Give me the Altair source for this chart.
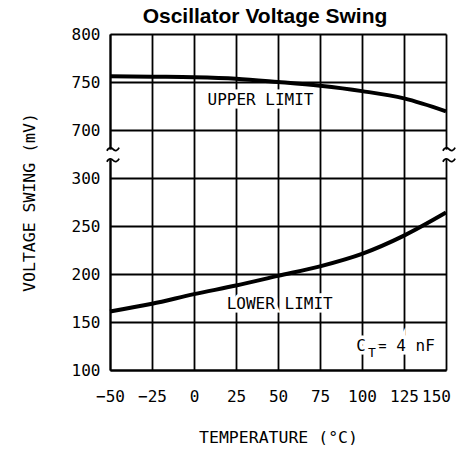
import altair as alt
import pandas as pd

# ---- data ----
temps = [-50, -25, 0, 25, 50, 75, 100, 125, 150]
upper_mv = [756, 755.5, 755, 753.5, 750, 746, 740.5, 733, 719.5]
lower_mv = [161, 169, 179, 188, 198, 208, 221, 240, 264]
y_tick_labels = ["100", "150", "200", "250", "300", "700", "750", "800"]
x_ticks = [-50, -25, 0, 25, 50, 75, 100, 125, 150]


# broken y axis: 100..300 and 700..800 on one uniform index scale
def to_pos(v):
    return (v - 100) / 50 if v <= 300 else 5 + (v - 700) / 50


curves = pd.DataFrame({
    "t": temps * 2,
    "mv": upper_mv + lower_mv,
    "series": ["upper"] * len(temps) + ["lower"] * len(temps),
})
curves["pos"] = curves["mv"].map(to_pos)

ann = pd.DataFrame({
    "text": ["UPPER LIMIT", "LOWER LIMIT"],
    "t": [39.6, 51.0],
    "mv": [731, 169],
})
ann["pos"] = ann["mv"].map(to_pos)

ct_main = pd.DataFrame({"text": ["C", "= 4 nF"], "t": [100, 100], "mv": [125, 125],
                        "dx": [-1, 15], "align": ["center", "left"]})
ct_main["pos"] = ct_main["mv"].map(to_pos)
ct_sub = pd.DataFrame({"text": ["T"], "t": [100], "mv": [125]})
ct_sub["pos"] = ct_sub["mv"].map(to_pos)

brk = pd.DataFrame({"t": [-50, 150], "y1": [4.39, 4.39], "y2": [4.59, 4.59]})
squig = pd.DataFrame({"t": [-50, -50, 150, 150], "pos": [4.6, 4.37, 4.6, 4.37]})

MONO = "DejaVu Sans Mono"
label_expr = "[" + ",".join("'%s'" % s for s in y_tick_labels) + "][datum.value]"

xs = alt.Scale(domain=[-50, 150], nice=False, zero=False)
ys = alt.Scale(domain=[0, 7], nice=False, zero=False)

x_enc = alt.X("t:Q", scale=xs, axis=alt.Axis(
    values=x_ticks, title="TEMPERATURE (°C)", ticks=False,
    labelExpr="replace(datum.label, '-', '−')",
    labelOffset={"condition": {"test": "datum.value == 150", "value": -10}, "value": 0},
    labelFont=MONO, labelFontSize=16, labelColor="black", labelPadding=18,
    labelFlush=False, labelOverlap=False,
    titleFont=MONO, titleFontSize=16.5, titleFontWeight="normal", titleColor="black",
    titlePadding=25,
    domainColor="black", domainWidth=2, gridColor="black", gridWidth=1.8, gridOpacity=1,
))
y_enc = alt.Y("pos:Q", scale=ys, axis=alt.Axis(
    values=list(range(8)), title="VOLTAGE SWING (mV)", ticks=False,
    labelExpr=label_expr,
    labelFont=MONO, labelFontSize=16, labelColor="black", labelPadding=10,
    labelFlush=False, labelOverlap=False,
    titleFont=MONO, titleFontSize=16.5, titleFontWeight="normal", titleColor="black",
    titlePadding=34,
    domainColor="black", domainWidth=2, gridColor="black", gridWidth=1.8, gridOpacity=1,
))

lines = alt.Chart(curves).mark_line(color="black", strokeWidth=4, interpolate="monotone").encode(
    x=x_enc, y=y_enc, detail="series:N")

halo_kw = dict(stroke="white", strokeWidth=7, color="white", font=MONO, fontSize=16)
ann_halo = alt.Chart(ann).mark_text(**halo_kw).encode(
    x=alt.X("t:Q", scale=xs), y=alt.Y("pos:Q", scale=ys), text="text:N")
ann_text = alt.Chart(ann).mark_text(color="black", font=MONO, fontSize=16).encode(
    x=alt.X("t:Q", scale=xs), y=alt.Y("pos:Q", scale=ys), text="text:N")

ct_layers = []
for _, r in ct_main.iterrows():
    d = ct_main[ct_main["text"] == r["text"]]
    for kw in (halo_kw, dict(color="black", font=MONO, fontSize=16)):
        ct_layers.append(alt.Chart(d).mark_text(dx=int(r["dx"]), align=r["align"], **kw).encode(
            x=alt.X("t:Q", scale=xs), y=alt.Y("pos:Q", scale=ys), text="text:N"))
for kw in (dict(halo_kw, fontSize=13), dict(color="black", font=MONO, fontSize=13)):
    ct_layers.append(alt.Chart(ct_sub).mark_text(dx=10, dy=7, **kw).encode(
        x=alt.X("t:Q", scale=xs), y=alt.Y("pos:Q", scale=ys), text="text:N"))

gap = alt.Chart(brk).mark_rule(color="white", strokeWidth=6).encode(
    x=alt.X("t:Q", scale=xs), y=alt.Y("y1:Q", scale=ys), y2="y2:Q")
TILDE = "M-1,0.25 C-0.7,-0.35 -0.3,-0.35 0,0 C0.3,0.35 0.7,0.35 1,-0.25"
squiggles = alt.Chart(squig).mark_point(
    shape=TILDE, size=150, filled=False, color="black", strokeWidth=1.8, opacity=1,
    xOffset=3).encode(x=alt.X("t:Q", scale=xs), y=alt.Y("pos:Q", scale=ys))

chart = alt.layer(lines, ann_halo, ann_text, *ct_layers, gap, squiggles).properties(
    width=336, height=336,
    title=alt.TitleParams("Oscillator Voltage Swing", font="Liberation Sans", fontSize=21,
                          fontWeight="bold", color="black", anchor="middle", dx=-13, dy=5),
    autosize=alt.AutoSizeParams(type="none"),
    padding={"left": 102, "top": 26, "right": 12, "bottom": 75},
).configure_view(strokeWidth=0).configure(background="white")

chart.save("out.html", embed_options={"renderer": "svg", "actions": False})
